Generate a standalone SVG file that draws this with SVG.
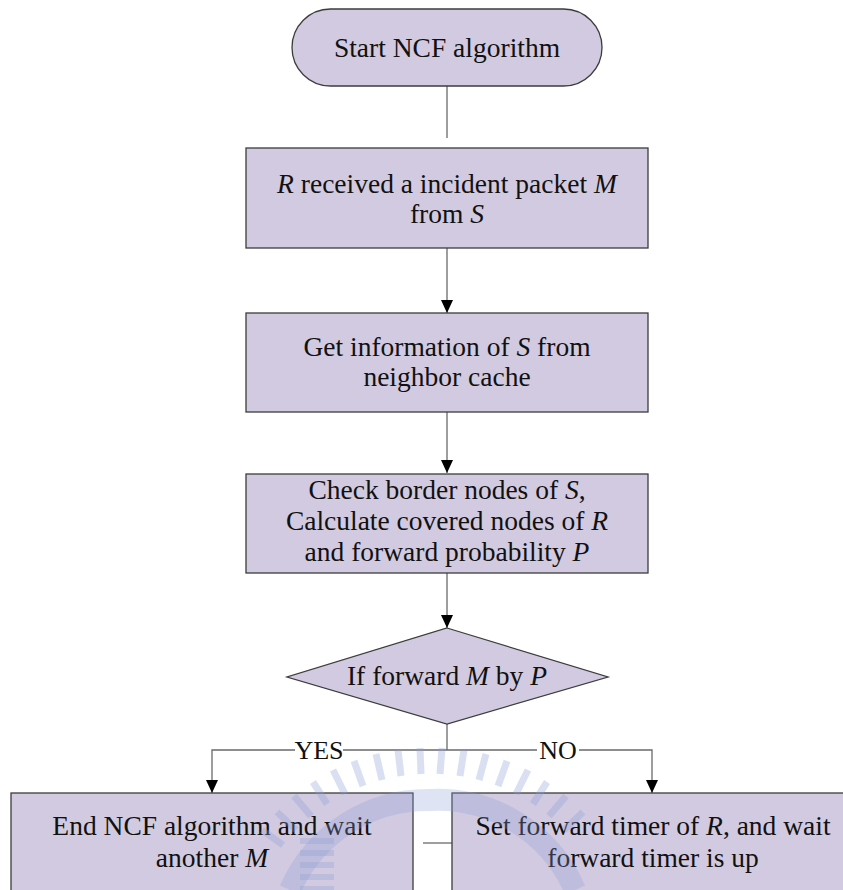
<svg xmlns="http://www.w3.org/2000/svg" width="843" height="890" viewBox="0 0 843 890">
  <style>
    .shape { fill: #D2CAE0; stroke: #3c3c3c; stroke-width: 1.3; }
    .label { font-family: "Liberation Serif", Tinos, "Times New Roman", "DejaVu Serif", serif; font-size: 27.5px; fill: #111; text-anchor: middle; }
    .edge-label { font-family: "Liberation Serif", Tinos, "Times New Roman", "DejaVu Serif", serif; font-size: 26px; fill: #111; text-anchor: middle; }
    .wire { fill: none; stroke: #6a6a6a; stroke-width: 1.3; }
    .arrow { fill: none; stroke: #6a6a6a; stroke-width: 1.3; marker-end: url(#head); }
    .it { font-style: italic; }
  </style>
  <defs>
    <marker id="head" viewBox="0 0 13 12" refX="13" refY="6" markerWidth="13" markerHeight="12" markerUnits="userSpaceOnUse" orient="auto">
      <path d="M0,0 L13,6 L0,12 Z" fill="#000"/>
    </marker>
  </defs>
  <rect width="843" height="890" fill="#fff"/>

  <!-- connectors -->
  <g id="connectors">
    <line class="wire" x1="447" y1="86" x2="447" y2="138"/>
    <line class="arrow" x1="447" y1="248" x2="447" y2="313"/>
    <line class="arrow" x1="447" y1="412" x2="447" y2="473"/>
    <line class="arrow" x1="447" y1="573" x2="447" y2="628"/>
    <polyline class="wire" points="447,724 447,750"/>
    <polyline class="arrow" points="447,750 212,750 212,793"/>
    <polyline class="arrow" points="447,750 652,750 652,793"/>
    <line class="wire" x1="423" y1="843" x2="452" y2="843"/>
  </g>

  <!-- nodes -->
  <g id="start">
    <rect class="shape" x="292" y="9" width="310" height="77" rx="38.5" ry="38.5"/>
    <text class="label" x="447" y="57">Start NCF algorithm</text>
  </g>

  <g id="receive">
    <rect class="shape" x="246" y="148" width="402" height="100"/>
    <text class="label" x="447" y="193"><tspan class="it">R</tspan> received a incident packet <tspan class="it">M</tspan></text>
    <text class="label" x="447" y="223">from <tspan class="it">S</tspan></text>
  </g>

  <g id="lookup">
    <rect class="shape" x="246" y="313" width="402" height="99"/>
    <text class="label" x="447" y="356">Get information of <tspan class="it">S</tspan> from</text>
    <text class="label" x="447" y="386">neighbor cache</text>
  </g>

  <g id="compute">
    <rect class="shape" x="246" y="474" width="402" height="99"/>
    <text class="label" x="447" y="499">Check border nodes of <tspan class="it">S</tspan>,</text>
    <text class="label" x="447" y="530">Calculate covered nodes of <tspan class="it">R</tspan></text>
    <text class="label" x="447" y="561">and forward probability <tspan class="it">P</tspan></text>
  </g>

  <g id="decision">
    <polygon class="shape" points="447,628 608,677 447,724 287,677"/>
    <text class="label" x="447" y="685">If forward <tspan class="it">M</tspan> by <tspan class="it">P</tspan></text>
  </g>

  <g id="label-yes">
    <rect x="295" y="738" width="48" height="24" fill="#fff"/>
    <text class="edge-label" x="319" y="759">YES</text>
  </g>
  <g id="label-no">
    <rect x="537" y="738" width="42" height="24" fill="#fff"/>
    <text class="edge-label" x="558" y="759">NO</text>
  </g>

  <g id="end">
    <rect class="shape" x="11" y="793" width="402" height="110"/>
    <text class="label" x="212" y="835">End NCF algorithm and wait</text>
    <text class="label" x="212" y="867">another <tspan class="it">M</tspan></text>
  </g>

  <g id="timer">
    <rect class="shape" x="452" y="793" width="402" height="110"/>
    <text class="label" x="653" y="835">Set forward timer of <tspan class="it">R</tspan>, and wait</text>
    <text class="label" x="653" y="867">forward timer is up</text>
  </g>

  <!-- faint seal printed over the lower part of the page -->
  <g id="seal">
    <g fill="none" stroke="#8c9ed6" stroke-opacity="0.32" stroke-width="7">
      <path d="M283,845 L262,830"/>
      <path d="M296,830 L277,812"/>
      <path d="M311,816 L294,796"/>
      <path d="M327,804 L313,782"/>
      <path d="M345,794 L333,770"/>
      <path d="M363,786 L354,761"/>
      <path d="M382,780 L376,754"/>
      <path d="M401,776 L398,750"/>
      <path d="M421,774 L420,748"/>
      <path d="M440,774 L442,748"/>
      <path d="M460,776 L464,750"/>
      <path d="M479,780 L486,754"/>
      <path d="M498,786 L507,761"/>
      <path d="M516,794 L528,770"/>
      <path d="M533,804 L547,782"/>
      <path d="M549,816 L566,796"/>
      <path d="M564,830 L583,812"/>
    </g>
    <path d="M290,890 A150,150 0 0 1 430,800 A150,150 0 0 1 575,890" fill="none" stroke="#8c9ed6" stroke-opacity="0.28" stroke-width="22"/>
    <g fill="#8c9ed6" opacity="0.3">
      <rect x="300" y="838" width="34" height="6"/>
      <rect x="300" y="850" width="34" height="6"/>
      <rect x="300" y="862" width="34" height="6"/>
      <rect x="300" y="874" width="34" height="6"/>
      <rect x="300" y="886" width="34" height="4"/>
    </g>
  </g>
</svg>
